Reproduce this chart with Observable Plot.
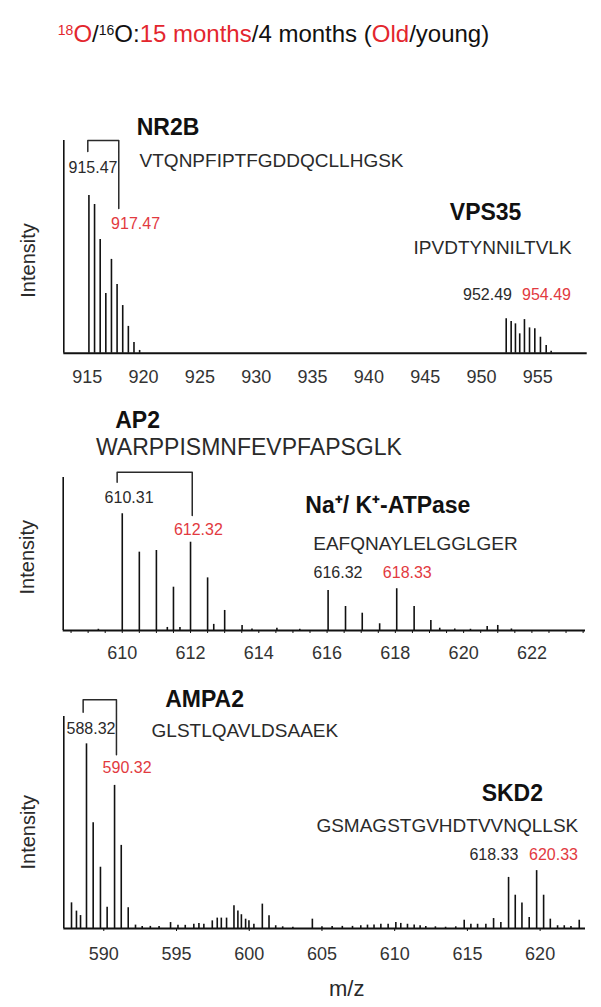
<!DOCTYPE html>
<html><head><meta charset="utf-8">
<script src="https://cdn.jsdelivr.net/npm/d3@7"></script>
<script src="https://cdn.jsdelivr.net/npm/@observablehq/plot@0.6"></script>
<style>
body{margin:0;background:#fff;}
#root{position:relative;width:601px;height:1007px;overflow:hidden;font-family:"Liberation Sans",Arial,sans-serif;background:#fff;}
.panel{position:absolute;left:0;}
.panel svg{display:block;overflow:visible;}
#title{position:absolute;left:0;top:20px;width:547px;text-align:center;font-size:24px;line-height:28px;color:#111;white-space:nowrap;}
.r{color:#e3262e}
.sup{font-size:14px;vertical-align:7px;line-height:0}
</style></head><body>
<div id="root">
<div id="title"><span class="r"><span class="sup">18</span>O</span>/<span class="sup">16</span>O:<span class="r">15 months</span>/4 months (<span class="r">Old</span>/young)</div>
<div class="panel" id="p1" style="top:90px"></div>
<div class="panel" id="p2" style="top:390px"></div>
<div class="panel" id="p3" style="top:680px"></div>
</div>
<script>
// ---- data (m/z and relative intensity) ----
const nr2bMz   = [915.15, 915.65, 916.15, 916.65, 917.15, 917.65, 918.15, 918.65, 919.15, 919.65];
const nr2bInt  = [74.1, 69.9, 53.5, 28.1, 44.1, 32.3, 22.4, 12.6, 5.0, 1.3];
const vps35Mz  = [952.19, 952.63, 953.01, 953.39, 953.81, 954.26, 954.73, 955.23, 955.74, 956.18];
const vps35Int = [16.2, 14.9, 13.8, 9.1, 15.8, 11.9, 11.5, 7.5, 3.6, 0.9];
const p1Ticks  = [915, 920, 925, 930, 935, 940, 945, 950, 955];

const ap2Mz    = [610.0, 610.5, 611.0, 611.5, 612.0, 612.5, 613.0];
const ap2Int   = [76.3, 51.2, 52.3, 28.3, 57.7, 34.4, 13.1];
const atpMz    = [616.03, 616.54, 617.03, 617.54, 618.04, 618.55, 619.04];
const atpInt   = [26.1, 15.7, 11.3, 4.4, 27.3, 15.7, 6.5];
const p2NoiseMz  = [609.3, 611.32, 611.69, 612.68, 613.51, 613.8, 614.53, 615.2, 619.3, 619.74, 620.2, 620.69, 621.0, 621.4];
const p2NoiseInt = [0.8, 2, 2, 4, 3.3, 1, 1.5, 0.8, 1.5, 1, 0.8, 2.6, 3.3, 1];
const p2Ticks  = [610, 612, 614, 616, 618, 620, 622];

const ampaMz   = [587.78, 588.12, 588.4, 588.81, 589.27, 589.77, 590.23, 590.74, 591.2, 591.68];
const ampaInt  = [12.1, 8.2, 6.1, 87.1, 49.9, 28.9, 10, 67.5, 39.2, 9.8];
const skd2Mz   = [617.83, 618.29, 618.75, 619.25, 619.76, 620.24, 620.7];
const skd2Int  = [24.1, 15.7, 12, 5.2, 27.3, 15.7, 4.4];
const p3NoiseMz  = [592.18, 592.64, 593.2, 593.8, 594.59, 595.1, 595.6, 596.19, 596.54, 596.88, 597.46, 597.8, 598.08, 598.44,
  598.95, 599.22, 599.46, 599.75, 599.98, 600.32, 600.9, 601.36, 601.82, 602.3, 603.0, 604.34, 605.0, 605.7, 606.4, 607.1,
  607.67, 608.13, 608.58, 609.05, 609.55, 610.08, 610.42, 610.88, 611.34, 611.75, 612.14, 612.8, 613.5, 614.2, 614.78,
  615.24, 615.7, 616.27, 616.8, 617.3, 621.2, 621.66, 622.12, 622.69];
const p3NoiseInt = [1.6, 1, 1, 1, 2.8, 1.5, 1.5, 2, 2.4, 2, 3.6, 4.9, 4.9, 4.9,
  10.7, 8.3, 6.5, 4.4, 3.6, 2, 11.5, 6, 1.3, 0.8, 0.6, 4.4, 0.8, 1, 1, 1,
  1.3, 1.6, 1.6, 2, 2, 2.8, 2.4, 2, 1.7, 1.3, 1, 0.8, 0.6, 0.8, 3.9,
  2, 2, 2, 4.7, 2.8, 1.3, 1.3, 1, 3.9];
const p3Ticks  = [590, 595, 600, 605, 610, 615, 620];

const zip = (mz, it) => mz.map((m, i) => ({mz: m, int: it[i]}));

const FONT = '"Liberation Sans", Arial, sans-serif';
const RED = "#e23a3f", INK = "#111", GREY = "#2a2a2a";

function panel(o) {
  const marks = [
    ...o.peaks.map(p => Plot.ruleX(p, {x: "mz", y1: 0, y2: "int", stroke: INK, strokeWidth: 1.6})),
    Plot.ruleY([0], {stroke: INK, strokeWidth: 2}),
    Plot.ruleX([o.domain[0]], {stroke: INK, strokeWidth: 1.6}),
    Plot.axisX({ticks: o.ticks, tickSize: o.tickSize, tickPadding: o.tickPadding, fontSize: 18, fill: "#333", stroke: INK, label: null, tickFormat: d => String(d)}),
    ...(o.minor ? [Plot.axisX({ticks: o.minor, tickSize: 3, text: null, label: null, stroke: INK})] : []),
    ...o.brackets.map(b => Plot.line(b, {x: "mz", y: "int", stroke: GREY, strokeWidth: 1.5})),
    ...o.labels.map(l => Plot.text([l], {x: "mz", y: "int", text: "t", fontSize: l.size, fontWeight: l.bold ? "bold" : "normal", fill: l.red ? RED : (l.bold ? INK : GREY)})),
    Plot.text(["Intensity"], {x: o.domain[0], y: o.intensityY, dx: -35.3, rotate: -90, fontSize: 20, fill: GREY}),
    ...(o.extra || [])
  ];
  const svg = Plot.plot({
    width: 601, height: o.height,
    marginTop: o.mt, marginBottom: o.mb, marginLeft: o.ml, marginRight: o.mr,
    x: {domain: o.domain, axis: null},
    y: {domain: [0, 100], axis: null},
    style: {fontFamily: FONT, background: "transparent", overflow: "visible"},
    marks
  });
  document.getElementById(o.el).appendChild(svg);
}

// Panel 1
panel({
  el: "p1", height: 300, mt: 50, mb: 37.3, ml: 63.3, mr: 14.3,
  domain: [912.92, 959.38], ticks: p1Ticks, tickSize: 0, tickPadding: 17,
  peaks: [zip(nr2bMz, nr2bInt), zip(vps35Mz, vps35Int)],
  brackets: [[{mz: 915.05, int: 94.8}, {mz: 915.05, int: 100}, {mz: 917.8, int: 100}, {mz: 917.8, int: 68}]],
  labels: [
    {t: "NR2B", mz: 922.17, int: 106.1, size: 23, bold: true},
    {t: "VTQNPFIPTFGDDQCLLHGSK", mz: 931.36, int: 90.6, size: 19},
    {t: "915.47", mz: 915.51, int: 87.3, size: 16},
    {t: "917.47", mz: 919.29, int: 61, size: 16, red: true},
    {t: "VPS35", mz: 950.36, int: 66.1, size: 23, bold: true},
    {t: "IPVDTYNNILTVLK", mz: 950.98, int: 49.7, size: 19},
    {t: "952.49", mz: 950.53, int: 27.6, size: 16},
    {t: "954.49", mz: 955.77, int: 27.6, size: 16, red: true}
  ],
  intensityY: 43.6
});

// Panel 2
panel({
  el: "p2", height: 290, mt: 87, mb: 50, ml: 62.7, mr: 16,
  domain: [608.27, 623.57], ticks: p2Ticks, tickSize: 0, tickPadding: 16,
  minor: d3.range(608.5, 623.6, 0.5),
  peaks: [zip(ap2Mz, ap2Int), zip(atpMz, atpInt), zip(p2NoiseMz, p2NoiseInt)],
  brackets: [[{mz: 609.85, int: 96.9}, {mz: 609.85, int: 103.5}, {mz: 612.05, int: 103.5}, {mz: 612.05, int: 75.2}]],
  labels: [
    {t: "AP2", mz: 610.45, int: 137.3, size: 23, bold: true},
    {t: "WARPPISMNFEVPFAPSGLK", mz: 613.71, int: 119.6, size: 23},
    {t: "610.31", mz: 610.2, int: 86.9, size: 16},
    {t: "612.32", mz: 612.23, int: 66, size: 16, red: true},
    {t: "Na⁺/ K⁺-ATPase", mz: 617.78, int: 81.7, size: 23, bold: true},
    {t: "EAFQNAYLELGGLGER", mz: 618.59, int: 56.9, size: 19},
    {t: "616.32", mz: 616.32, int: 37.9, size: 16},
    {t: "618.33", mz: 618.35, int: 37.9, size: 16, red: true}
  ],
  intensityY: 47.9
});

// Panel 3
panel({
  el: "p3", height: 327, mt: 36, mb: 79, ml: 63.3, mr: 16,
  domain: [587.25, 623.12], ticks: p3Ticks, tickSize: 3, tickPadding: 16,
  peaks: [zip(ampaMz, ampaInt), zip(skd2Mz, skd2Int), zip(p3NoiseMz, p3NoiseInt)],
  brackets: [[{mz: 588.58, int: 102}, {mz: 588.58, int: 107.9}, {mz: 590.87, int: 107.9}, {mz: 590.87, int: 81.9}]],
  labels: [
    {t: "AMPA2", mz: 596.93, int: 108, size: 23, bold: true},
    {t: "GLSTLQAVLDSAAEK", mz: 599.7, int: 93.1, size: 19},
    {t: "588.32", mz: 589.12, int: 94.3, size: 16},
    {t: "590.32", mz: 591.6, int: 75.9, size: 16, red: true},
    {t: "SKD2", mz: 618.09, int: 63.7, size: 23, bold: true},
    {t: "GSMAGSTGVHDTVVNQLLSK", mz: 613.62, int: 48.3, size: 19},
    {t: "618.33", mz: 616.82, int: 34.9, size: 16},
    {t: "620.33", mz: 620.92, int: 34.9, size: 16, red: true}
  ],
  intensityY: 45.4,
  extra: [Plot.text(["m/z"], {x: 606.7, y: -28.3, fontSize: 22, fill: GREY})]
});
</script>
</body></html>
